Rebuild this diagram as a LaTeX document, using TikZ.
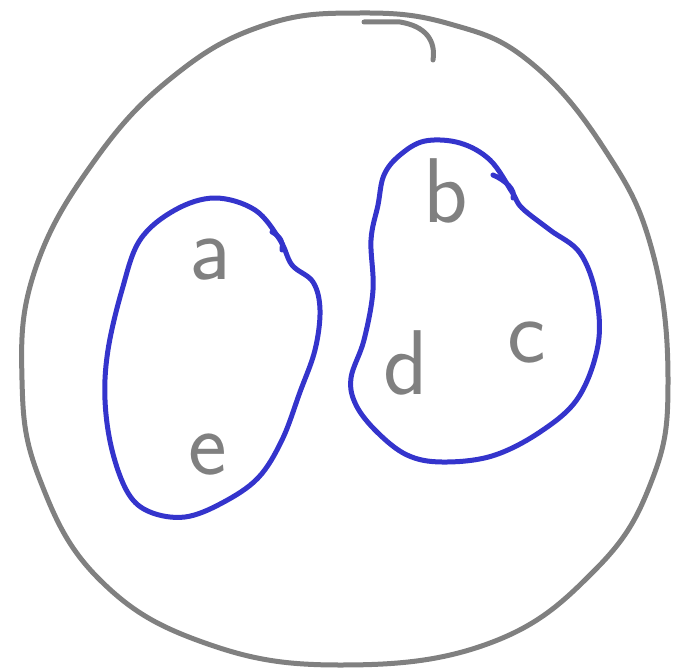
\documentclass[tikz,border=0pt]{standalone}
\definecolor{pengray}{RGB}{128,128,128}
\definecolor{penblue}{RGB}{52,52,204}
\begin{document}
\begin{tikzpicture}[x=1pt,y=-1pt,
  grayline/.style={draw=pengray,line width=5pt,line cap=round,line join=round},
  blueline/.style={draw=penblue,line width=5pt,line cap=round,line join=round},
  letter/.style={text=pengray,font=\sffamily\fontsize{92}{92}\selectfont,anchor=base,inner sep=0pt}]
\useasboundingbox (0,0) rectangle (680,669);
% outer set
\draw[grayline] plot[smooth cycle,tension=0.7] coordinates {(360,13) (450,24) (530,62) (605,150) (652,250) (668,380) (652,480) (595,570) (490,643) (340,665) (205,643) (100,580) (40,480) (22,380) (35,270) (95,160) (175,75) (265,25)};
\draw[grayline] (364,22) -- (400,22) .. controls (425,26) and (436,40) .. (433,60);
% left subset
\draw[blueline] plot[smooth cycle,tension=0.6] coordinates {(215,198) (175,210) (140,240) (122,290) (108,350) (105,400) (112,450) (128,493) (150,512) (185,517) (222,503) (258,478) (282,440) (300,392) (315,350) (320,310) (313,282) (292,265) (280,240) (255,210)};
\draw[blueline] (272,232) .. controls (280,236) and (284,243) .. (282,250);
% right subset
\draw[blueline] plot[smooth cycle,tension=0.6] coordinates {(425,141) (400,155) (384,175) (378,205) (371,240) (373,290) (364,340) (351,378) (356,405) (377,432) (407,455) (442,462) (492,456) (540,432) (578,398) (598,345) (596,295) (580,253) (550,230) (522,208) (512,192) (490,160) (460,143)};
\draw[blueline] (493,175) .. controls (505,180) and (516,190) .. (513,198);
% elements
\node[letter] (la) at (210,279) {a};
\node[letter] (le) at (208,474) {e};
\node[letter] (lb) at (446,222) {b};
\node[letter] (ld) at (406,394) {d};
\node[letter] (lc) at (527,362) {c};
\end{tikzpicture}
\end{document}
